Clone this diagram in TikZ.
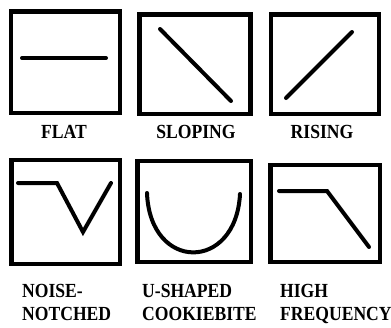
\documentclass[tikz,border=0pt]{standalone}
\usepackage{fontspec}
\setmainfont{Liberation Serif}[FakeStretch=0.88]
\begin{document}
\begin{tikzpicture}[x=1pt,y=-1pt,
  frame/.style={draw=black,line width=4.5pt},
  curve/.style={draw=black,line width=4pt,line cap=round,line join=miter},
  lbl/.style={inner sep=0pt,font=\fontsize{20}{23}\selectfont\bfseries}]
\useasboundingbox[fill=white] (0,0) rectangle (391,327);
% boxes
\draw[frame] (10.75,11.25) rectangle (119.75,112.75);
\draw[frame] (139.25,14.25) rectangle (250.25,113.75);
\draw[frame] (270.75,14.25) rectangle (378.75,113.75);
\draw[frame] (11.25,159.75) rectangle (119.75,263.75);
\draw[frame] (137.25,160.75) rectangle (250.75,261.75);
\draw[frame] (270.25,164.75) rectangle (379.75,261.75);
% curves
\coordinate (f1) at (22,58); \coordinate (f2) at (106,58);
\draw[curve] (f1) -- (f2);
\coordinate (s1) at (160,29); \coordinate (s2) at (231,101);
\draw[curve] (s1) -- (s2);
\coordinate (r1) at (286,98); \coordinate (r2) at (352,32);
\draw[curve] (r1) -- (r2);
\coordinate (n1) at (18,183); \coordinate (n2) at (57,183);
\coordinate (n3) at (83,232); \coordinate (n4) at (111,183);
\draw[curve] (n1) -- (n2) -- (n3) -- (n4);
\coordinate (u1) at (147,193); \coordinate (u2) at (240,194);
\draw[curve] (u1) .. controls (150,272) and (236,272) .. (u2);
\coordinate (h1) at (279,191); \coordinate (h2) at (327,191);
\coordinate (h3) at (369,247);
\draw[curve] (h1) -- (h2) -- (h3);
% labels
\node[lbl,anchor=base] (tflat) at (64,138) {FLAT};
\node[lbl,anchor=base] (tslop) at (196,138) {SLOPING};
\node[lbl,anchor=base] (trise) at (322,138) {RISING};
\node[lbl,anchor=base west] (tn1) at (22,297) {NOISE-};
\node[lbl,anchor=base west] (tn2) at (22,320) {NOTCHED};
\node[lbl,anchor=base west] (tu1) at (142,297) {U-SHAPED};
\node[lbl,anchor=base west] (tu2) at (142,320) {COOKIEBITE};
\node[lbl,anchor=base west] (th1) at (280,297) {HIGH};
\node[lbl,anchor=base west] (th2) at (280,320) {FREQUENCY};
\end{tikzpicture}
\end{document}
